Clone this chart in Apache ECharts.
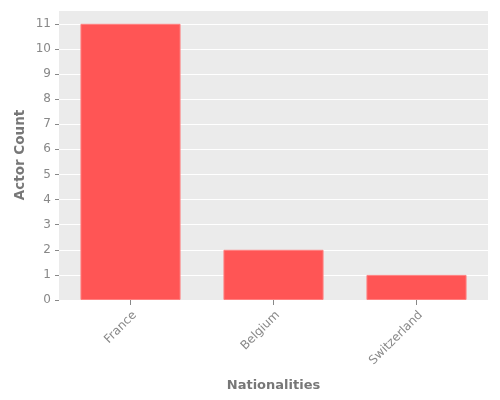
<!DOCTYPE html>
<html>
<head>
<meta charset="utf-8">
<script src="https://cdn.jsdelivr.net/npm/echarts@6/dist/echarts.min.js"></script>
<style>
  html, body { margin: 0; padding: 0; background: #fff; }
  #chart { width: 500px; height: 400px; }
</style>
</head>
<body>
<div id="chart"></div>
<script>
const nationalities = ['France', 'Belgium', 'Switzerland']
const actorCounts = [11, 2, 1]

const font = '"DejaVu Sans", sans-serif'
const tickColor = '#888'
const labelColor = '#777'

const chart = echarts.init(document.getElementById('chart'), null, { renderer: 'canvas' })

chart.setOption({
  animation: false,
  backgroundColor: '#fff',
  textStyle: { fontFamily: font },
  grid: { left: 59, right: 12, top: 10, bottom: 100, containLabel: false, show: true, backgroundColor: '#EBEBEB', borderWidth: 0 },
  xAxis: {
    type: 'category',
    data: nationalities,
    boundaryGap: true,
    name: 'Nationalities',
    nameLocation: 'middle',
    nameGap: 79,
    nameMoveOverlap: false,
    nameTextStyle: { color: labelColor, fontSize: 13, fontWeight: 'bold', fontFamily: font },
    axisLine: { show: false },
    axisTick: { show: true, alignWithLabel: true, length: 5, lineStyle: { color: tickColor } },
    axisLabel: { rotate: 45, align: 'right', verticalAlign: 'top', color: tickColor, fontSize: 12, margin: 9, fontFamily: font },
    splitLine: { show: false }
  },
  yAxis: {
    type: 'value',
    min: 0,
    max: 11.55,
    interval: 1,
    name: 'Actor Count',
    nameLocation: 'middle',
    nameGap: 32,
    nameMoveOverlap: false,
    nameTextStyle: { color: labelColor, fontSize: 13.5, fontWeight: 'bold', fontFamily: font },
    axisLine: { show: false },
    axisTick: { show: true, length: 4, lineStyle: { color: tickColor } },
    axisLabel: {
      color: tickColor, fontSize: 12, margin: 8, fontFamily: font,
      showMaxLabel: false,
      formatter: v => (Number.isInteger(v) ? String(v) : '')
    },
    splitLine: { show: true, lineStyle: { color: '#fff', width: 1 } }
  },
  series: [{
    type: 'bar',
    data: actorCounts,
    barCategoryGap: '30%',
    itemStyle: { color: '#FF5555', borderColor: '#FF8080', borderWidth: 1 }
  }]
})
</script>
</body>
</html>
